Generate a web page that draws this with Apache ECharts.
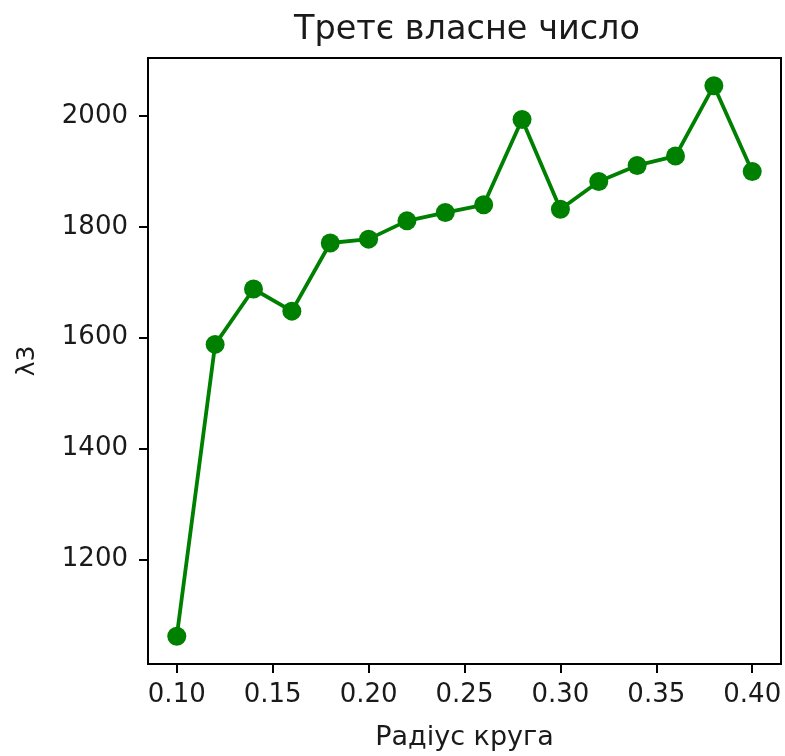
<!DOCTYPE html>
<html>
<head>
<meta charset="utf-8">
<script src="https://cdn.jsdelivr.net/npm/echarts@6/dist/echarts.min.js"></script>
<style>
html,body{margin:0;padding:0;background:#fff;}
#chart{width:785px;height:756px;}
</style>
</head>
<body>
<div id="chart"></div>
<script>
const radii = [0.10, 0.12, 0.14, 0.16, 0.18, 0.20, 0.22, 0.24, 0.26, 0.28, 0.30, 0.32, 0.34, 0.36, 0.38, 0.40];
const lambda3 = [1061, 1588, 1688, 1648, 1771, 1778, 1811, 1826, 1840, 1994, 1832, 1882, 1911, 1928, 2055, 1900];
const xTicks = [0.10, 0.15, 0.20, 0.25, 0.30, 0.35, 0.40];
const yTicks = [1200, 1400, 1600, 1800, 2000];
const titleText = 'Третє власне число';
const xName = 'Радіус круга';
const yName = 'λ3';

const FONT = 'DejaVu Sans';
const TXT = '#1a1a1a';
const chart = echarts.init(document.getElementById('chart'), null, {renderer: 'canvas'});
chart.setOption({
  animation: false,
  backgroundColor: '#fff',
  title: {
    text: titleText,
    left: 462, top: 8, textAlign: 'center',
    textStyle: {fontFamily: FONT, fontSize: 33.5, fontWeight: 'normal', color: TXT}
  },
  grid: {
    left: 148, right: 4, top: 58, bottom: 88,
    show: true, borderColor: '#000', borderWidth: 2, backgroundColor: 'transparent'
  },
  xAxis: {
    type: 'value', min: 0.085, max: 0.415,
    name: xName, nameLocation: 'middle', nameGap: 60,
    nameTextStyle: {fontFamily: FONT, fontSize: 27, color: TXT},
    axisLine: {show: false},
    axisTick: {show: true, customValues: xTicks, length: 9, lineStyle: {color: '#000', width: 2}},
    axisLabel: {customValues: xTicks, margin: 18, fontFamily: FONT, fontSize: 26, color: TXT,
      formatter: v => v.toFixed(2)},
    splitLine: {show: false}
  },
  yAxis: {
    type: 'value', min: 1011, max: 2105,
    name: yName, nameLocation: 'middle', nameGap: 108,
    nameTextStyle: {fontFamily: FONT, fontSize: 25, color: TXT},
    axisLine: {show: false},
    axisTick: {show: true, customValues: yTicks, length: 9, lineStyle: {color: '#000', width: 2}},
    axisLabel: {customValues: yTicks, margin: 20, fontFamily: FONT, fontSize: 26, color: TXT,
      formatter: v => String(v)},
    splitLine: {show: false}
  },
  series: [{
    type: 'line',
    data: radii.map((r, i) => [r, lambda3[i]]),
    symbol: 'circle', symbolSize: 19,
    lineStyle: {color: '#008000', width: 3.8},
    itemStyle: {color: '#008000'},
    emphasis: {disabled: true}
  }]
});
</script>
</body>
</html>
